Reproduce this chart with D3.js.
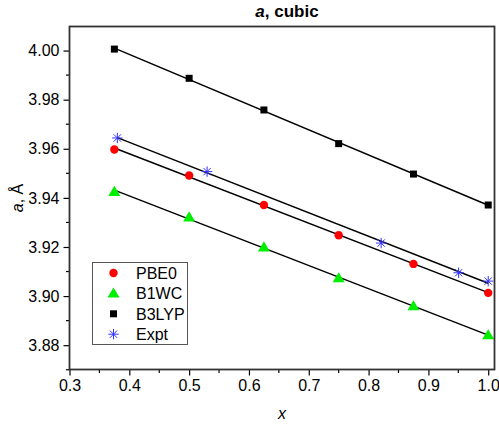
<!DOCTYPE html>
<html>
<head>
<meta charset="utf-8">
<script src="https://cdn.jsdelivr.net/npm/d3@7"></script>
<style>
  html, body { margin: 0; padding: 0; background: #fff; }
  svg { display: block; font-family: Arial, "Liberation Sans", sans-serif; }
</style>
</head>
<body>
<svg id="chart" width="499" height="425"></svg>
<script>
// Lattice parameter a (Å) versus composition x for the cubic phase
const xCalc = [0.375, 0.5, 0.625, 0.75, 0.875, 1.0];
const pbe0  = [3.9597, 3.9491, 3.9371, 3.9248, 3.9131, 3.9013];
const b1wc  = [3.9425, 3.9321, 3.9199, 3.9073, 3.8959, 3.8841];
const b3lyp = [4.0006, 3.9887, 3.9758, 3.9621, 3.9497, 3.9371];
const xExpt = [0.38, 0.53, 0.821, 0.9505, 1.0];
const expt  = [3.9644, 3.9507, 3.9216, 3.9095, 3.9061];

const xTicks = [0.3, 0.4, 0.5, 0.6, 0.7, 0.8, 0.9, 1.0];
const yTicks = [3.88, 3.90, 3.92, 3.94, 3.96, 3.98, 4.00];

const series = [
  { name: "PBE0",  xs: xCalc, ys: pbe0,  symbol: "circle" },
  { name: "B1WC",  xs: xCalc, ys: b1wc,  symbol: "triangle" },
  { name: "B3LYP", xs: xCalc, ys: b3lyp, symbol: "square" },
  { name: "Expt",  xs: xExpt, ys: expt,  symbol: "star" }
];

const svg = d3.select("#chart");
const plotL = 69.5, plotR = 494.5, plotT = 26.5, plotB = 369.5;

const x = d3.scaleLinear().domain([0.3, 1.0105]).range([plotL, plotR]);
const y = d3.scaleLinear().domain([3.8701, 4.0098]).range([plotB, plotT]);

// least-squares straight line through each series
function fit(xs, ys) {
  const mx = d3.mean(xs), my = d3.mean(ys);
  let num = 0, den = 0;
  xs.forEach((v, i) => { num += (v - mx) * (ys[i] - my); den += (v - mx) * (v - mx); });
  const k = num / den;
  return v => my + k * (v - mx);
}

// fitted lines
const g = svg.append("g");
series.forEach(s => {
  const f = fit(s.xs, s.ys);
  const x0 = d3.min(s.xs), x1 = d3.max(s.xs);
  g.append("line")
    .attr("x1", x(x0)).attr("y1", y(f(x0)))
    .attr("x2", x(x1)).attr("y2", y(f(x1)))
    .attr("stroke", "#000").attr("stroke-width", 1.5);
});

// marker drawing
function drawMarker(sel, symbol) {
  if (symbol === "circle") {
    sel.append("circle").attr("r", 4.2).attr("fill", "#ff0000");
  } else if (symbol === "triangle") {
    sel.append("path").attr("d", "M0,-6L6,4.2L-6,4.2Z").attr("fill", "#00ee00");
  } else if (symbol === "square") {
    sel.append("rect").attr("x", -3.5).attr("y", -3.5).attr("width", 7).attr("height", 7).attr("fill", "#000");
  } else if (symbol === "star") {
    const r = 5.2;
    let d = "";
    for (let k = 0; k < 4; k++) {
      const a = k * Math.PI / 4;
      d += `M${(r * Math.cos(a)).toFixed(2)},${(r * Math.sin(a)).toFixed(2)}L${(-r * Math.cos(a)).toFixed(2)},${(-r * Math.sin(a)).toFixed(2)}`;
    }
    sel.append("path").attr("d", d)
      .attr("stroke", "#3333ff").attr("stroke-width", 1).attr("fill", "none");
  }
}

series.forEach(s => {
  s.xs.forEach((v, i) => {
    const m = svg.append("g").attr("transform", `translate(${x(v)},${y(s.ys[i])})`);
    drawMarker(m, s.symbol);
  });
});

// axes
const xAxis = d3.axisBottom(x).tickValues(xTicks).tickFormat(d3.format(".1f")).tickSize(6).tickPadding(4);
const yAxis = d3.axisLeft(y).tickValues(yTicks).tickFormat(d3.format(".2f")).tickSize(6).tickPadding(4);

const gx = svg.append("g").attr("transform", `translate(0,${plotB})`).call(xAxis);
const gy = svg.append("g").attr("transform", `translate(${plotL},0)`).call(yAxis);
[gx, gy].forEach(a => {
  a.select(".domain").remove();
  a.selectAll(".tick line").attr("stroke", "#000").attr("stroke-width", 1.2);
  a.selectAll(".tick text").attr("font-size", 16).attr("fill", "#000")
    .attr("font-family", "Arial, 'Liberation Sans', sans-serif");
});

// minor ticks
const xMinor = [0.35, 0.45, 0.55, 0.65, 0.75, 0.85, 0.95];
const yMinor = [3.87, 3.89, 3.91, 3.93, 3.95, 3.97, 3.99];
svg.append("g").selectAll("line").data(xMinor).join("line")
  .attr("x1", d => x(d)).attr("x2", d => x(d))
  .attr("y1", plotB).attr("y2", plotB + 3.5)
  .attr("stroke", "#000").attr("stroke-width", 1.2);
svg.append("g").selectAll("line").data(yMinor).join("line")
  .attr("y1", d => y(d)).attr("y2", d => y(d))
  .attr("x1", plotL).attr("x2", plotL - 3.5)
  .attr("stroke", "#000").attr("stroke-width", 1.2);

// frame
svg.append("rect")
  .attr("x", plotL).attr("y", plotT)
  .attr("width", plotR - plotL).attr("height", plotB - plotT)
  .attr("fill", "none").attr("stroke", "#333").attr("stroke-width", 1.8);

// title
const title = svg.append("text")
  .attr("x", 287).attr("y", 17).attr("text-anchor", "middle")
  .attr("font-size", 17).attr("font-weight", "bold").attr("fill", "#000");
title.append("tspan").attr("font-style", "italic").text("a");
title.append("tspan").text(", cubic");

// axis titles
svg.append("text")
  .attr("x", 282).attr("y", 419).attr("text-anchor", "middle")
  .attr("font-size", 16).attr("font-style", "italic").attr("fill", "#000")
  .text("x");

const yl = svg.append("text")
  .attr("transform", `translate(23,${(plotT + plotB) / 2}) rotate(-90)`)
  .attr("text-anchor", "middle")
  .attr("font-size", 16).attr("fill", "#000");
yl.append("tspan").attr("font-style", "italic").text("a");
yl.append("tspan").text(", Å");

// legend
const lg = svg.append("g").attr("transform", "translate(92.5,262.5)");
lg.append("rect").attr("width", 95).attr("height", 82)
  .attr("fill", "#fff").attr("stroke", "#555").attr("stroke-width", 1);
series.forEach((s, i) => {
  const row = lg.append("g").attr("transform", `translate(0,${10.5 + i * 20.4})`);
  const m = row.append("g").attr("transform", "translate(21,0)");
  drawMarker(m, s.symbol);
  row.append("text").attr("x", 43.5).attr("y", 6)
    .attr("font-size", 16).attr("fill", "#000").text(s.name);
});
</script>
</body>
</html>
